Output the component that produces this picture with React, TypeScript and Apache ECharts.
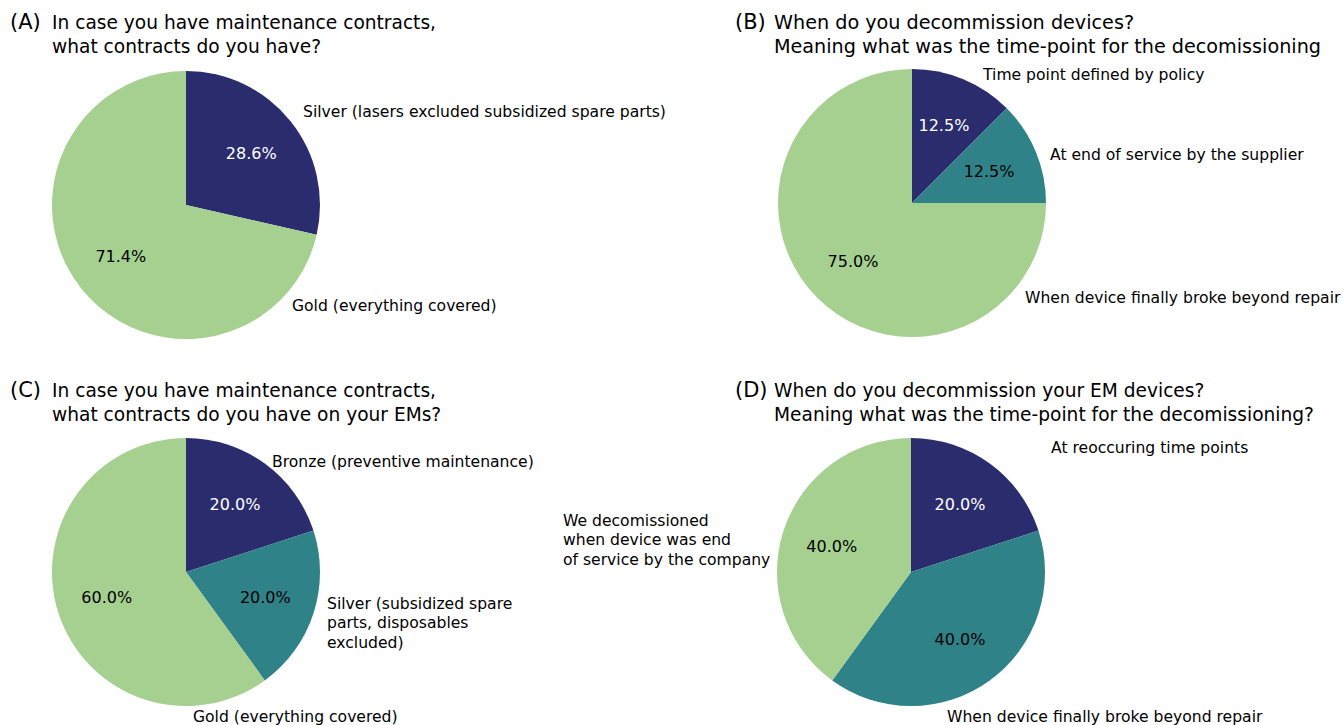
import React, { useEffect, useRef } from "react";
import * as echarts from "echarts";

// ---- data ----
const namesA = ["Silver (lasers excluded subsidized spare parts)", "Gold (everything covered)"];
const valuesA = [2, 5];

const namesB = ["Time point defined by policy", "At end of service by the supplier", "When device finally broke beyond repair"];
const valuesB = [1, 1, 6];

const namesC = ["Bronze (preventive maintenance)", "Silver (subsidized spare\nparts, disposables\nexcluded)", "Gold (everything covered)"];
const valuesC = [1, 1, 3];

const namesD = ["At reoccuring time points", "When device finally broke beyond repair", "We decomissioned\nwhen device was end\nof service by the company"];
const valuesD = [1, 2, 2];

const titleLetters = ["(A)", "(B)", "(C)", "(D)"];
const titleTexts = [
  "In case you have maintenance contracts,\nwhat contracts do you have?",
  "When do you decommission devices?\nMeaning what was the time-point for the decomissioning",
  "In case you have maintenance contracts,\nwhat contracts do you have on your EMs?",
  "When do you decommission your EM devices?\nMeaning what was the time-point for the decomissioning?",
];

// ---- styles / layout ----
const NAVY = "#2a2c6d";
const TEAL = "#2e8288";
const GREEN = "#a5d08f";
const FONT = "DejaVu Sans";
const R = 134;

const panels = [
  {
    names: namesA, values: valuesA, colors: [NAVY, GREEN], center: [186, 205],
    pctColors: ["#ffffff", "#000000"],
    namePos: [[303, 112], [292, 306]],
    letterPos: [10, 10], textPos: [52, 10], titleSize: 18.6,
  },
  {
    names: namesB, values: valuesB, colors: [NAVY, TEAL, GREEN], center: [912, 203],
    pctColors: ["#ffffff", "#000000", "#000000"],
    namePos: [[983, 75], [1050, 155], [1025, 298]],
    letterPos: [735, 10], textPos: [774, 10], titleSize: 19.2,
  },
  {
    names: namesC, values: valuesC, colors: [NAVY, TEAL, GREEN], center: [186, 572],
    pctColors: ["#ffffff", "#000000", "#000000"],
    namePos: [[272, 462], [327, 623], [193, 717]],
    letterPos: [10, 378], textPos: [52, 378], titleSize: 18.6,
  },
  {
    names: namesD, values: valuesD, colors: [NAVY, TEAL, GREEN], center: [911, 572],
    pctColors: ["#ffffff", "#000000", "#000000"],
    namePos: [[1051, 448], [947, 717], [563, 540]],
    letterPos: [735, 378], textPos: [774, 378], titleSize: 18.6,
  },
];

export default function App() {
  const ref = useRef<HTMLDivElement>(null);
  useEffect(() => {
    if (!ref.current) return;
    const chart = echarts.init(ref.current, undefined, { renderer: "svg" });
    const titles: any[] = [];
    const series: any[] = [];
    panels.forEach((p, i) => {
      titles.push({
        text: titleLetters[i], left: p.letterPos[0], top: p.letterPos[1], padding: 0,
        textStyle: { fontFamily: FONT, fontSize: 21, fontWeight: "normal", color: "#000", lineHeight: 24 },
      });
      titles.push({
        text: titleTexts[i], left: p.textPos[0], top: p.textPos[1], padding: 0,
        textStyle: { fontFamily: FONT, fontSize: p.titleSize, fontWeight: "normal", color: "#000", lineHeight: 24 },
      });
      const pos = p.namePos;
      series.push({
        type: "pie", silent: true, center: p.center, radius: R, startAngle: 90, clockwise: true,
        avoidLabelOverlap: false,
        data: p.values.map((v, k) => ({ name: p.names[k], value: v, itemStyle: { color: p.colors[k] } })),
        label: { show: true, position: "inside", formatter: "{b}", fontFamily: FONT, fontSize: 15.6, color: "#000", lineHeight: 19.5 },
        labelLine: { show: false },
        labelLayout: (prm: any) => ({ x: pos[prm.dataIndex][0], y: pos[prm.dataIndex][1], align: "left", verticalAlign: "middle" }),
        emphasis: { disabled: true },
      });
      series.push({
        type: "pie", silent: true, center: p.center, radius: R * 1.2, startAngle: 90, clockwise: true,
        avoidLabelOverlap: false,
        data: p.values.map((v, k) => ({
          name: p.names[k], value: v, itemStyle: { color: "rgba(0,0,0,0)" },
          label: { color: p.pctColors[k] },
        })),
        label: {
          show: true, position: "inside", fontFamily: FONT, fontSize: 16,
          formatter: (prm: any) => prm.percent.toFixed(1) + "%",
        },
        labelLine: { show: false },
        emphasis: { disabled: true },
      });
    });
    chart.setOption({ animation: false, backgroundColor: "#ffffff", title: titles, series });
    return () => chart.dispose();
  }, []);
  return <div ref={ref} style={{ position: "fixed", left: 0, top: 0, width: 1343, height: 725 }} />;
}
